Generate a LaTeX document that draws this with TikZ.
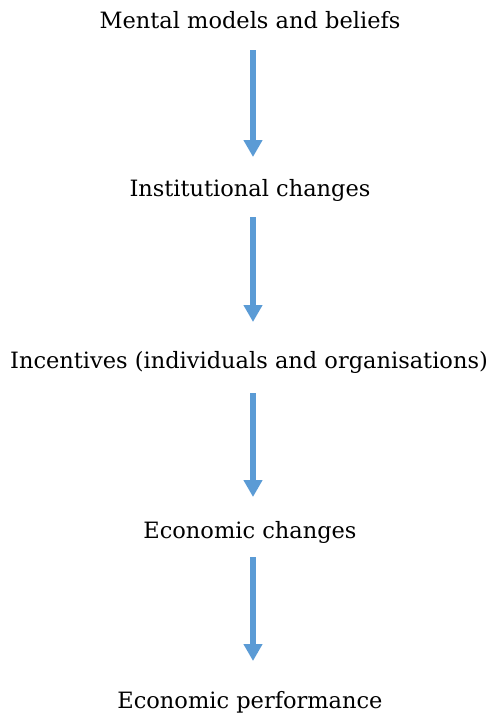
\documentclass[tikz,border=0pt]{standalone}
\usepackage{fontspec}
\setmainfont{DejaVu Serif}
\usetikzlibrary{arrows.meta}
\definecolor{flowblue}{HTML}{5B9BD5}
\begin{document}
\begin{tikzpicture}[x=1pt,y=1pt,
  label/.style={inner sep=0pt,font=\fontsize{22.5}{27}\selectfont,text=black},
  flow/.style={draw=flowblue,line width=6pt,-{Triangle[width=18pt,length=17pt]}}]
\useasboundingbox (0,0) rectangle (490,-716);
\node[label] (beliefs) at (250,-20) {Mental models and beliefs};
\node[label] (inst) at (250,-190) {Institutional changes};
\node[label] (incent) at (249,-362) {Incentives (individuals and organisations)};
\node[label] (econ) at (250,-532) {Economic changes};
\node[label] (perf) at (250,-702) {Economic performance};
\draw[flow,shorten <=30pt,shorten >=33pt] ([xshift=3pt]beliefs.center) -- ([xshift=3pt]beliefs.center |- inst.center);
\draw[flow,shorten <=27pt,shorten >=40pt] ([xshift=3pt]beliefs.center |- inst.center) -- ([xshift=3pt]beliefs.center |- incent.center);
\draw[flow,shorten <=31pt,shorten >=35pt] ([xshift=3pt]beliefs.center |- incent.center) -- ([xshift=3pt]beliefs.center |- econ.center);
\draw[flow,shorten <=25pt,shorten >=41pt] ([xshift=3pt]beliefs.center |- econ.center) -- ([xshift=3pt]beliefs.center |- perf.center);
\end{tikzpicture}
\end{document}
